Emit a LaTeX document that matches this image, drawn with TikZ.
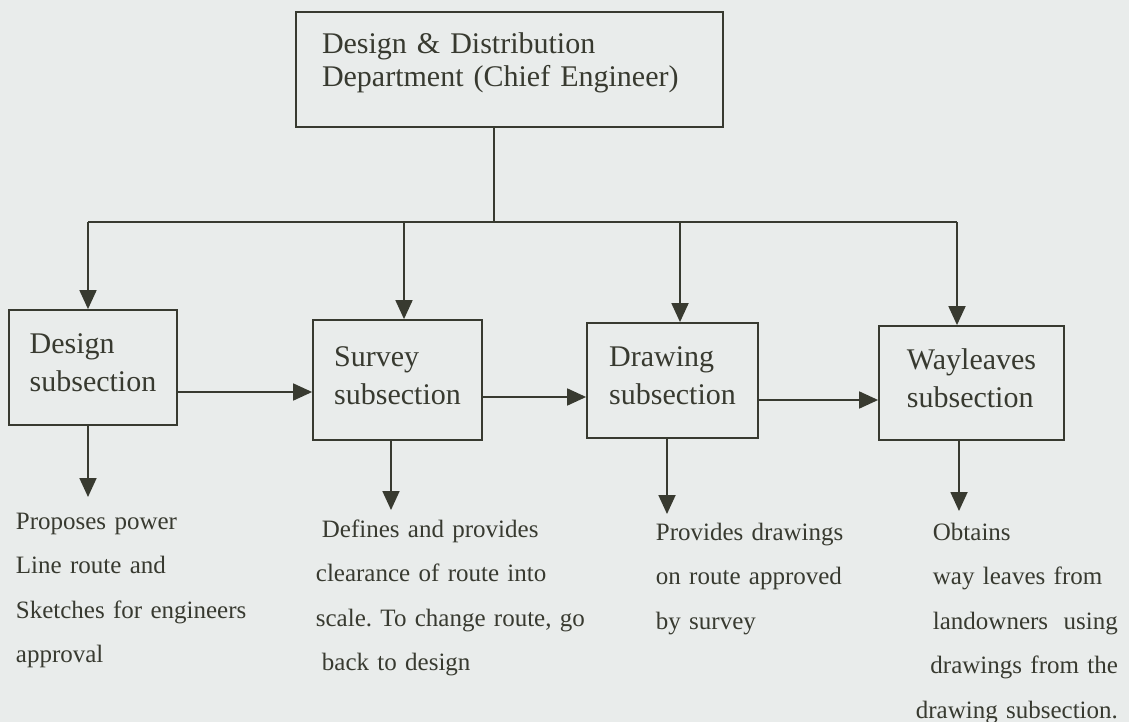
\documentclass[tikz,border=0pt]{standalone}
\usepackage{fontspec}
\setmainfont{Liberation Serif}
\usetikzlibrary{arrows.meta}
\definecolor{paper}{RGB}{233,236,235}
\definecolor{ink}{RGB}{56,58,48}
\frenchspacing

\begin{document}
\begin{tikzpicture}[x=1pt, y=-1pt, line width=1.8pt, color=ink,
  arr/.style={-{Triangle[width=17pt, length=19pt]}},
  subbox/.style={draw, align=left, text height=60pt, text depth=12pt, font=\fontsize{30}{38}\selectfont},
  desc/.style={anchor=base west, align=left, inner sep=0pt, font=\fontsize{25}{44.5}\selectfont}]
\path[use as bounding box, fill=paper] (0,0) rectangle (1129,722);
\node[draw, minimum width=427pt, minimum height=115pt, text width=375pt, align=left, text height=21pt, text depth=52pt, font=\fontsize{30}{33}\selectfont] (dept) at (509.5,69.5) {Design \& Distribution\\Department (Chief Engineer)};
\node[subbox, minimum width=168pt, minimum height=115pt] (design) at (93,367.5) {Design\\subsection};
\node[subbox, minimum width=169pt, minimum height=120pt] (survey) at (397.5,380) {Survey\\subsection};
\node[subbox, minimum width=171pt, minimum height=115pt] (drawing) at (672.5,380.5) {Drawing\\subsection};
\node[subbox, minimum width=185pt, minimum height=114pt] (wayleaves) at (971.5,383) {Wayleaves\\subsection};
\coordinate (split) at (494,222);
\coordinate (c1) at (88,222);
\coordinate (c2) at (404,222);
\coordinate (c3) at (680,222);
\coordinate (c4) at (957,222);
\draw (dept.south -| split) -- (split);
\draw (c1) -- (c4);
\foreach \c/\b in {c1/design, c2/survey, c3/drawing, c4/wayleaves}
  \draw[arr] (\c) -- (\c |- \b.north);
\draw[arr] ([yshift=-24.5pt]design.east) -- ([yshift=-12pt]survey.west);
\draw[arr] ([yshift=-17pt]survey.east) -- ([yshift=-16.5pt]drawing.west);
\draw[arr] ([yshift=-19.5pt]drawing.east) -- ([yshift=-17pt]wayleaves.west);
\coordinate (t1) at (88,497);
\coordinate (t2) at (391,510);
\coordinate (t3) at (667,514);
\coordinate (t4) at (959,511);
\foreach \t/\b in {t1/design, t2/survey, t3/drawing, t4/wayleaves}
  \draw[arr] (\b.south -| \t) -- (\t);
\node[desc, text width=240pt] (designtxt) at (15,529) {Proposes power\\Line route and\\Sketches for engineers\\approval};
\node[desc, text width=280pt] (surveytxt) at (315,537) {\hspace*{6pt}Defines and provides\\clearance of route into\\scale. To change route, go\\\hspace*{6pt}back to design};
\node[desc, text width=200pt] (drawingtxt) at (655,540) {Provides drawings\\on route approved\\by survey};
\node[desc, text width=203pt] (wayleavestxt) at (914,540) {\hspace*{18pt}Obtains\\\hspace*{18pt}way leaves from\\\hspace*{18pt}landowners\hfill using\\\mbox{}\hfill drawings from the\\\mbox{}\hfill drawing subsection.};
\end{tikzpicture}
\end{document}
